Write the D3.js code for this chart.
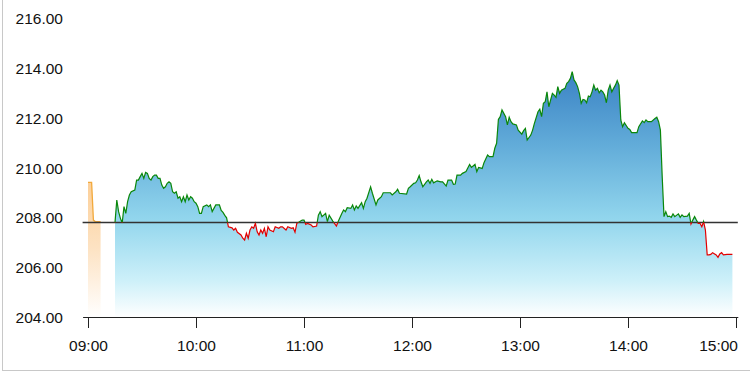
<!DOCTYPE html>
<html>
<head>
<meta charset="UTF-8" />
<title>Intraday</title>
<script src="https://d3js.org/d3.v7.min.js"></script>
<style>
  body { margin: 0; background: #fff; }
  svg { display: block; font-family: Arial, "Liberation Sans", sans-serif; }
  .axis text { font-size: 15.5px; fill: #111; }
  .axis path, .axis line { stroke: #222; }
</style>
</head>
<body>
<svg id="chart" width="750" height="373"></svg>
<script>
// ---- data ----
const prevClose = 207.81;
const yTicks = [204, 206, 208, 210, 212, 214, 216];
const xTicks = ["09:00", "10:00", "11:00", "12:00", "13:00", "14:00", "15:00"];

// call auction, orange
const pre = [["09:00",209.43],["09:01",209.43],["09:02",209.43],["09:03",207.91],["09:04",207.85],["09:05",207.85],["09:06",207.85],["09:07",207.85]];

// continuous session, one array per hour
const h09 = [["09:15",207.81],["09:16",208.72],["09:17",208.25],["09:18",207.98],["09:19",207.80],["09:20",208.45],["09:21",208.18],["09:22",208.65],["09:23",208.92],["09:24",209.05],["09:26",209.12],["09:27",209.52],["09:28",209.52],["09:29",209.66],["09:30",209.79],["09:31",209.59],["09:32",209.83],["09:33",209.79],["09:34",209.59],["09:35",209.52],["09:36",209.66],["09:37",209.72],["09:38",209.72],["09:39",209.59],["09:40",209.59],["09:41",209.32],["09:42",209.19],["09:43",209.25],["09:44",209.39],["09:45",209.45],["09:46",209.39],["09:47",209.05],["09:48",208.99],["09:49",209.05],["09:50",208.79],["09:51",208.85],["09:52",208.65],["09:53",208.85],["09:54",208.65],["09:55",208.92],["09:56",208.72],["09:57",208.85],["09:58",208.79],["09:59",208.65]];
const h10 = [["10:00",208.59],["10:01",208.45],["10:02",208.18],["10:03",208.18],["10:04",208.45],["10:06",208.52],["10:07",208.45],["10:08",208.52],["10:09",208.25],["10:11",208.52],["10:13",208.52],["10:14",208.30],["10:15",208.22],["10:16",208.10],["10:17",208.00],["10:18",207.64],["10:20",207.60],["10:21",207.51],["10:22",207.58],["10:23",207.42],["10:25",207.31],["10:26",207.18],["10:27",207.11],["10:28",207.38],["10:29",207.18],["10:30",207.51],["10:31",207.64],["10:32",207.58],["10:33",207.78],["10:34",207.44],["10:35",207.31],["10:36",207.51],["10:37",207.38],["10:38",207.58],["10:39",207.24],["10:40",207.64],["10:41",207.51],["10:43",207.44],["10:44",207.64],["10:46",207.58],["10:47",207.64],["10:48",207.64],["10:50",207.51],["10:51",207.64],["10:53",207.58],["10:54",207.60],["10:55",207.42],["10:56",207.78],["10:57",207.82],["10:59",207.91]];
const h11 = [["11:00",207.91],["11:01",207.74],["11:02",207.78],["11:04",207.71],["11:05",207.64],["11:07",207.67],["11:08",208.11],["11:09",208.25],["11:10",208.05],["11:12",208.18],["11:13",207.85],["11:14",208.11],["11:16",207.87],["11:18",207.67],["11:19",207.85],["11:21",208.18],["11:22",208.32],["11:23",208.25],["11:24",208.41],["11:26",208.38],["11:27",208.52],["11:28",208.32],["11:29",208.48],["11:30",208.38],["11:32",208.61],["11:33",208.38],["11:34",208.65],["11:35",208.79],["11:37",209.25],["11:38",208.99],["11:40",208.52],["11:41",208.72],["11:43",208.85],["11:44",209.01],["11:48",209.01],["11:49",208.92],["11:51",209.05],["11:52",209.15],["11:53",208.99],["11:57",208.96],["11:58",209.19],["11:59",209.25]];
const h12 = [["12:01",209.39],["12:02",209.41],["12:03",209.52],["12:04",209.70],["12:05",209.45],["12:06",209.25],["12:08",209.45],["12:09",209.52],["12:10",209.39],["12:11",209.55],["12:12",209.41],["12:14",209.49],["12:16",209.45],["12:17",209.45],["12:19",209.28],["12:20",209.52],["12:22",209.52],["12:23",209.35],["12:24",209.36],["12:25",209.72],["12:27",209.72],["12:28",209.79],["12:30",209.86],["12:32",210.15],["12:33",210.03],["12:35",210.15],["12:36",209.86],["12:37",210.03],["12:39",209.99],["12:40",210.22],["12:42",210.53],["12:43",210.46],["12:45",210.46],["12:46",210.80],["12:47",211.00],["12:48",211.96],["12:49",212.07],["12:50",212.34],["12:52",212.07],["12:53",211.74],["12:54",212.05],["12:55",211.87],["12:56",211.78],["12:58",211.74],["12:59",211.53]];
const h13 = [["13:01",211.37],["13:02",211.51],["13:03",211.60],["13:04",211.13],["13:06",211.33],["13:07",211.53],["13:08",211.80],["13:10",212.27],["13:11",212.37],["13:12",212.07],["13:13",212.61],["13:14",212.67],["13:15",213.07],["13:16",212.47],["13:18",213.01],["13:19",212.94],["13:20",212.85],["13:21",213.28],["13:22",213.01],["13:23",213.14],["13:25",213.21],["13:26",213.41],["13:27",213.48],["13:28",213.61],["13:29",213.88],["13:30",213.55],["13:31",213.44],["13:32",213.28],["13:33",213.01],["13:34",212.61],["13:35",212.76],["13:36",212.74],["13:37",212.63],["13:38",212.90],["13:39",212.87],["13:40",213.07],["13:41",213.34],["13:42",213.14],["13:43",213.21],["13:44",213.03],["13:45",213.14],["13:46",213.07],["13:47",212.94],["13:48",212.63],["13:49",213.14],["13:50",213.34],["13:51",213.07],["13:52",213.21],["13:53",213.34],["13:54",213.52],["13:55",213.34],["13:56",211.94],["13:57",211.67],["13:58",211.83]];
const h14 = [["14:00",211.60],["14:01",211.56],["14:02",211.43],["14:05",211.43],["14:06",211.67],["14:08",211.90],["14:09",211.83],["14:10",211.94],["14:11",211.87],["14:13",211.87],["14:15",212.00],["14:16",212.05],["14:17",211.87],["14:18",211.53],["14:19",209.66],["14:20",208.05],["14:21",208.25],["14:22",208.05],["14:23",208.07],["14:24",208.02],["14:25",208.16],["14:26",208.05],["14:28",208.16],["14:29",208.02],["14:30",208.12],["14:31",208.05],["14:33",208.07],["14:34",208.18],["14:35",207.75],["14:36",207.91],["14:37",208.05],["14:38",207.91],["14:39",207.78],["14:40",207.78],["14:41",207.64],["14:42",207.85],["14:43",207.51],["14:44",206.51],["14:45",206.51],["14:46",206.53],["14:47",206.60],["14:49",206.51],["14:50",206.41],["14:51",206.55],["14:52",206.60],["14:53",206.51],["14:55",206.53],["14:58",206.53]];

// ---- chart ----
const parse = d3.timeParse("%H:%M");
const toPts = arr => arr.map(d => ({ t: parse(d[0]), v: d[1] }));
const prePts = toPts(pre);
const session = toPts([].concat(h09, h10, h11, h12, h13, h14));

const svg = d3.select("#chart");

const x = d3.scaleTime()
  .domain([parse("08:57"), parse("15:01")])
  .range([82.6, 737.8]);
const y = d3.scaleLinear()
  .domain([204, 216])
  .range([317.3, 19]);

const defs = svg.append("defs");

const blue = defs.append("linearGradient").attr("id", "blueFill")
  .attr("x1", 0).attr("y1", 0).attr("x2", 0).attr("y2", 1);
[[0, "#3a82c4"], [0.3, "#62acd9"], [0.6, "#92d6ed"], [0.85, "#cdf0f9"], [1, "#ffffff"]]
  .forEach(s => blue.append("stop").attr("offset", s[0]).attr("stop-color", s[1]));

const orange = defs.append("linearGradient").attr("id", "orangeFill")
  .attr("x1", 0).attr("y1", 0).attr("x2", 0).attr("y2", 1);
[[0, "#fccf98"], [0.5, "#fde3c4"], [1, "#ffffff"]]
  .forEach(s => orange.append("stop").attr("offset", s[0]).attr("stop-color", s[1]));

const yBase = y(prevClose);
defs.append("clipPath").attr("id", "above")
  .append("rect").attr("x", 0).attr("y", 0).attr("width", 750).attr("height", yBase);
defs.append("clipPath").attr("id", "below")
  .append("rect").attr("x", 0).attr("y", yBase).attr("width", 750).attr("height", 373 - yBase);

// frame
svg.append("rect")
  .attr("x", 2.5).attr("y", -5).attr("width", 800).attr("height", 375.5)
  .attr("fill", "none").attr("stroke", "#c8c8c8");

const area = d3.area()
  .x(d => x(d.t))
  .y0(y(204))
  .y1(d => y(d.v));
const line = d3.line()
  .x(d => x(d.t))
  .y(d => y(d.v));

// pre-market
svg.append("path").datum(prePts)
  .attr("d", area).attr("fill", "url(#orangeFill)");
svg.append("path").datum(prePts)
  .attr("d", line).attr("fill", "none")
  .attr("stroke", "#f2a93b").attr("stroke-width", 1.3);

// session
svg.append("path").datum(session)
  .attr("d", area).attr("fill", "url(#blueFill)");

// previous close
svg.append("line")
  .attr("x1", x.range()[0]).attr("x2", x.range()[1])
  .attr("y1", yBase).attr("y2", yBase)
  .attr("stroke", "#333").attr("stroke-width", 1.5);

svg.append("path").datum(session)
  .attr("d", line).attr("fill", "none")
  .attr("stroke", "#0a870a").attr("stroke-width", 1.2)
  .attr("clip-path", "url(#above)");
svg.append("path").datum(session)
  .attr("d", line).attr("fill", "none")
  .attr("stroke", "#e30000").attr("stroke-width", 1.2)
  .attr("clip-path", "url(#below)");

// axes
const xAxis = svg.append("g").attr("class", "axis")
  .attr("transform", "translate(0,317)")
  .call(d3.axisBottom(x)
    .tickValues(xTicks.map(parse))
    .tickFormat(d3.timeFormat("%H:%M"))
    .tickSize(11)
    .tickSizeOuter(0)
    .tickPadding(12));
// last label sits left of its tick
xAxis.selectAll(".tick:last-of-type text")
  .attr("text-anchor", "end")
  .attr("x", 1.5);

const yAxis = svg.append("g").attr("class", "axis")
  .attr("transform", "translate(63,0)")
  .call(d3.axisLeft(y)
    .tickValues(yTicks)
    .tickFormat(d3.format(".2f"))
    .tickSize(0)
    .tickPadding(0));
yAxis.select(".domain").remove();
svg.selectAll(".axis").attr("font-size", null).attr("font-family", null);
</script>
</body>
</html>
